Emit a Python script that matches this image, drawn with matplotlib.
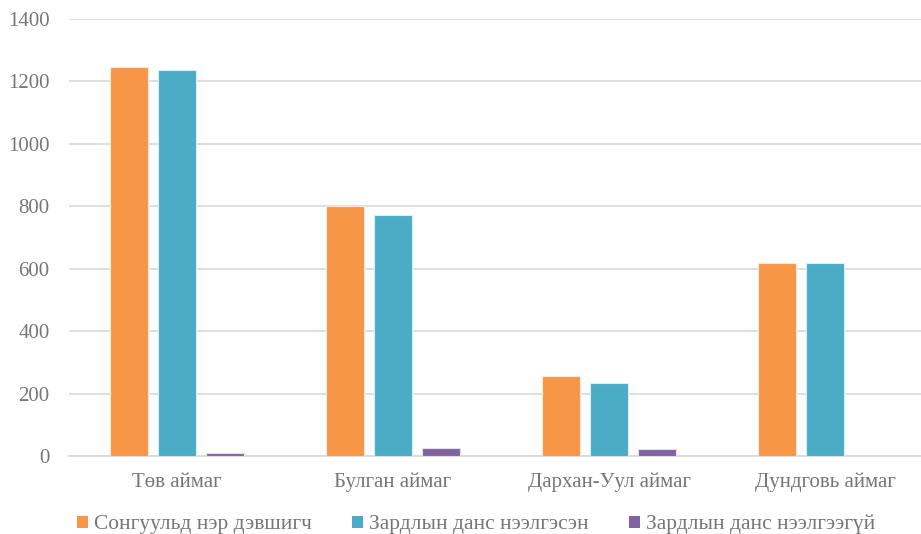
import matplotlib

matplotlib.use("Agg")
import matplotlib.pyplot as plt
import numpy as np
from matplotlib.patches import Patch

categories = ["Төв аймаг", "Булган аймаг", "Дархан-Уул аймаг", "Дундговь аймаг"]
series_names = ["Сонгуульд нэр дэвшигч", "Зардлын данс нээлгэсэн", "Зардлын данс нээлгээгүй"]
candidates = [1246, 800, 256, 618]
opened = [1236, 772, 234, 618]
not_opened = [11, 27, 21, 0]
colors = ["#F79646", "#4BACC6", "#8064A2"]
edges = ["#fde9d9", "#dbeef4", "#e4dfec"]

plt.rcParams["font.family"] = ["Liberation Serif", "DejaVu Serif"]
text_color = "#767676"

fig = plt.figure(figsize=(9.21, 5.34), dpi=100)
ax = fig.add_axes([69 / 921, 78 / 534, 864 / 921, 437 / 534])

x = np.arange(len(categories))
width = 0.176
offset = 0.222
for i, vals in enumerate([candidates, opened, not_opened]):
    ax.bar(x + (i - 1) * offset, vals, width, color=colors[i],
           edgecolor=edges[i], linewidth=0.8, zorder=3)

ax.set_xlim(-0.5, len(categories) - 0.5)
ax.set_ylim(0, 1400)
ax.set_yticks(range(0, 1401, 200))
ax.set_xticks(x)
ax.set_xticklabels(categories)
ax.yaxis.grid(True, color="#d9d9d9", linewidth=1.2, zorder=0)
ax.tick_params(axis="both", length=0, colors=text_color, labelsize=15)
ax.tick_params(axis="y", pad=14)
ax.tick_params(axis="x", pad=12)
for side in ["top", "right", "left"]:
    ax.spines[side].set_visible(False)
ax.spines["bottom"].set_color("#d9d9d9")
ax.spines["bottom"].set_linewidth(1.2)

handles = [Patch(facecolor=c, edgecolor="none") for c in colors]
leg = fig.legend(handles, series_names, loc="upper left", bbox_to_anchor=(77 / 921, 1 - 515 / 534),
                 ncol=3, frameon=False, fontsize=15.4, handlelength=0.5, handleheight=0.5,
                 handletextpad=0.28, columnspacing=1.9, borderpad=0, borderaxespad=0)
for t in leg.get_texts():
    t.set_color(text_color)

fig.savefig("out.png", dpi=100)
